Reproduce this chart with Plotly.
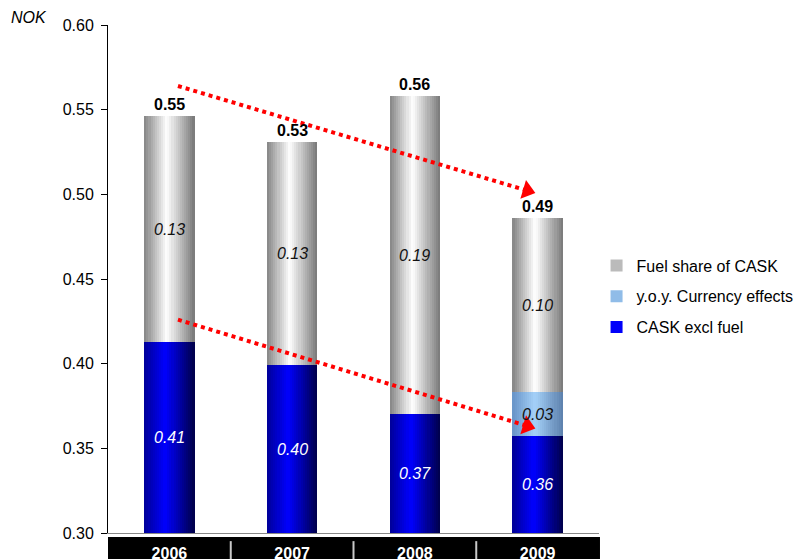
import math
import plotly.graph_objects as go

# ---- data ----
years = ["2006", "2007", "2008", "2009"]
cask_excl_fuel = [0.413, 0.399, 0.370, 0.357]
currency_effects = [0.0, 0.0, 0.0, 0.026]
fuel_share = [0.133, 0.132, 0.188, 0.103]
y_ticks = [0.30, 0.35, 0.40, 0.45, 0.50, 0.55, 0.60]

# trend arrows (category index, value)
arrow_upper = [(0.07, 0.564), (2.97, 0.501)]
arrow_lower = [(0.07, 0.426), (2.97, 0.362)]

Y_MIN, Y_MAX = 0.30, 0.60
BAR_W = 0.41
N_STRIPS = 24
FONT = "Liberation Sans, Arial, sans-serif"
PLOT_W, PLOT_H = 492, 508
PX_X = PLOT_W / 4.0
PX_Y = PLOT_H / (Y_MAX - Y_MIN)

def grad(stops, t):
    for (t0, c0), (t1, c1) in zip(stops, stops[1:]):
        if t0 <= t <= t1:
            f = (t - t0) / (t1 - t0) if t1 > t0 else 0
            c = [round(a + (b - a) * f) for a, b in zip(c0, c1)]
            return "rgb(%d,%d,%d)" % tuple(c)
    c = stops[-1][1]
    return "rgb(%d,%d,%d)" % tuple(c)

gray_stops = [(0.0, (0x84, 0x84, 0x84)), (0.45, (0xff, 0xff, 0xff)), (1.0, (0x78, 0x78, 0x78))]
blue_stops = [(0.0, (0x00, 0x00, 0x98)), (0.42, (0x00, 0x00, 0xff)), (1.0, (0x00, 0x00, 0x48))]
lblue_stops = [(0.0, (0x68, 0x94, 0xc8)), (0.45, (0xa4, 0xd0, 0xf8)), (1.0, (0x5c, 0x80, 0xac))]

x_idx = list(range(len(years)))
fig = go.Figure()

base_curr = cask_excl_fuel
base_fuel = [a + b for a, b in zip(cask_excl_fuel, currency_effects)]
totals = [a + b for a, b in zip(base_fuel, fuel_share)]

segments = [
    (cask_excl_fuel, [0] * 4, blue_stops),
    (currency_effects, base_curr, lblue_stops),
    (fuel_share, base_fuel, gray_stops),
]
sw = BAR_W / N_STRIPS
for vals, base, stops in segments:
    for i in range(N_STRIPS):
        t = (i + 0.5) / N_STRIPS
        w = sw * 1.6 if i < N_STRIPS - 1 else sw
        fig.add_trace(go.Bar(
            x=x_idx, y=vals, base=base,
            width=w, offset=-BAR_W / 2 + i * sw,
            marker=dict(color=grad(stops, t), line=dict(width=0)),
            showlegend=False, hoverinfo="skip",
        ))

# legend entries
legend_items = [("Fuel share of CASK", gray_stops, 0.2), ("y.o.y. Currency effects", lblue_stops, 0.3),
                ("CASK excl fuel", blue_stops, 0.4)]
for k, (name, stops, t) in enumerate(legend_items):
    fig.add_trace(go.Bar(
        x=[None], y=[None], name=name, legendgroup="g%d" % k,
        marker=dict(color=grad(stops, t), line=dict(width=0)),
        hoverinfo="skip",
    ))

annotations = []
LBL = 16
for i in x_idx:
    annotations.append(dict(x=i, y=(Y_MIN + cask_excl_fuel[i]) / 2, text="<i>%.2f</i>" % cask_excl_fuel[i],
                            showarrow=False, font=dict(color="white", size=LBL, family=FONT)))
    if currency_effects[i] > 0:
        annotations.append(dict(x=i, y=base_curr[i] + currency_effects[i] / 2,
                                text="<i>%.2f</i>" % currency_effects[i], showarrow=False,
                                font=dict(color="#111", size=LBL, family=FONT)))
    annotations.append(dict(x=i, y=base_fuel[i] + fuel_share[i] / 2, text="<i>%.2f</i>" % fuel_share[i],
                            showarrow=False, font=dict(color="#111", size=LBL, family=FONT)))
    annotations.append(dict(x=i, y=totals[i], text="<b>%.2f</b>" % totals[i], showarrow=False,
                            yanchor="bottom", yshift=1, font=dict(color="black", size=LBL, family=FONT)))

annotations.append(dict(xref="paper", yref="paper", x=-0.12, y=1.014, xanchor="right", yanchor="middle",
                        text="<i>NOK</i>", showarrow=False,
                        font=dict(size=16, color="black", family=FONT)))

shapes = []
for (x0, y0), (x1, y1) in (arrow_upper, arrow_lower):
    shapes.append(dict(type="line", xref="x", yref="y", x0=x0, y0=y0, x1=x1 - 0.03, y1=y1 + 0.03 * (y0 - y1) / (x1 - x0),
                       line=dict(color="#ff0000", width=4, dash="dot")))
    pdx, pdy = (x1 - x0) * PX_X, (y0 - y1) * PX_Y
    L = math.hypot(pdx, pdy)
    ang = math.degrees(math.atan2(pdy, pdx))
    back = 7.0
    hx = x1 - back * pdx / L / PX_X
    hy = y1 + back * pdy / L / PX_Y
    fig.add_trace(go.Scatter(x=[hx], y=[hy], mode="markers", showlegend=False, hoverinfo="skip",
                             marker=dict(symbol="triangle-right", size=17, angle=ang, color="#ff0000",
                                         line=dict(width=0))))

# black category band
shapes.append(dict(type="rect", xref="paper", yref="paper", x0=0.0, x1=1.002, y0=-0.2, y1=-0.008,
                   fillcolor="black", line=dict(width=0), layer="below"))
for b in [0.5, 1.5, 2.5]:
    shapes.append(dict(type="line", xref="x", yref="paper", x0=b, x1=b, y0=-0.2, y1=-0.016,
                       line=dict(color="#c8c8c8", width=2), layer="below"))

fig.update_layout(
    width=810, height=559,
    margin=dict(l=108, r=210, t=25, b=26),
    paper_bgcolor="white", plot_bgcolor="white",
    barmode="overlay", bargap=0,
    font=dict(family=FONT, size=15, color="black"),
    showlegend=True,
    legend=dict(x=0.993, y=0.56, xanchor="left", yanchor="top", traceorder="grouped",
                font=dict(size=16, family=FONT), tracegroupgap=7, itemwidth=30,
                bgcolor="rgba(0,0,0,0)"),
    xaxis=dict(range=[-0.5, 3.5], tickmode="array", tickvals=x_idx,
               ticktext=["<b>%s</b>" % y for y in years], showgrid=False, zeroline=False,
               showline=True, linecolor="#888", linewidth=1, ticks="",
               tickfont=dict(color="white", size=16, family=FONT), ticklabelstandoff=6,
               automargin=False),
    yaxis=dict(range=[Y_MIN, Y_MAX], tickvals=y_ticks, ticktext=["%.2f" % v for v in y_ticks],
               showgrid=False, zeroline=False, showline=True, linecolor="black", linewidth=1,
               ticks="outside", ticklen=6, tickcolor="black", tickfont=dict(size=16, family=FONT),
               ticklabelstandoff=4, automargin=False),
    annotations=annotations, shapes=shapes,
)

fig.write_html("out.html")
